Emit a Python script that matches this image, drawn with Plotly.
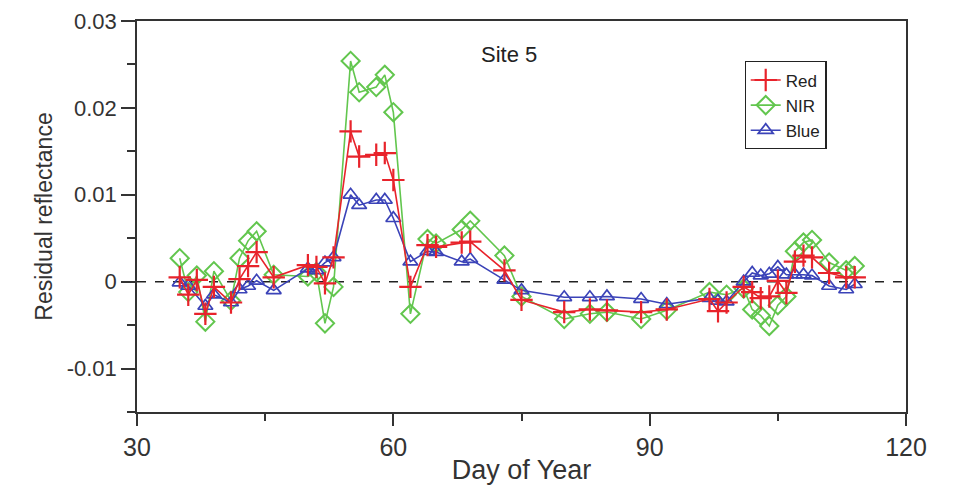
import plotly.graph_objects as go

# ---- data ----
days_red = [35, 36, 37, 38, 39, 41, 42, 43, 44, 46, 50, 51, 52, 53, 55, 56, 58, 59, 60, 62, 64, 65, 68, 69,
            73, 75, 80, 83, 85, 89, 92, 97, 98, 99, 101, 102, 103, 104, 105, 106, 107, 108, 109, 111, 113, 114]
red = [0.0005, -0.0015, 0.0002, -0.0037, -0.0006, -0.0024, 0.0003, 0.0018, 0.0034, 0.0005,
       0.0019, 0.0017, -0.0002, 0.0028, 0.0173, 0.0144, 0.0146, 0.0148, 0.0117, -0.0006,
       0.0042, 0.0040, 0.0045, 0.0046, 0.0013, -0.0021, -0.0035, -0.0032, -0.0033, -0.0035,
       -0.0032, -0.0020, -0.0034, -0.0024, -0.0006, -0.0012, -0.0019, -0.0017, 0.0001, -0.0013,
       0.0023, 0.0030, 0.0028, 0.0010, 0.0005, 0.0005]

days_nir = [35, 36, 37, 38, 39, 41, 42, 43, 44, 46, 50, 51, 52, 53, 55, 56, 58, 59, 60, 62, 64, 65, 68, 69,
            73, 75, 80, 83, 85, 89, 92, 97, 99, 101, 102, 103, 104, 105, 106, 107, 108, 109, 111, 113, 114]
nir = [0.0027, -0.0012, 0.0007, -0.0046, 0.0012, -0.0022, 0.0027, 0.0047, 0.0058, 0.0008,
       0.0006, 0.0011, -0.0048, -0.0006, 0.0254, 0.0218, 0.0224, 0.0238, 0.0195, -0.0037,
       0.0049, 0.0044, 0.0060, 0.0070, 0.0030, -0.0017, -0.0043, -0.0037, -0.0035, -0.0043,
       -0.0033, -0.0012, -0.0015, -0.0008, -0.0032, -0.0039, -0.0051, -0.0027, -0.0017, 0.0035,
       0.0045, 0.0048, 0.0022, 0.0013, 0.0018]

days_blue = [35, 36, 38, 39, 41, 42, 43, 44, 46, 50, 51, 52, 53, 55, 56, 58, 59, 60, 62, 64, 65, 68, 69,
             73, 75, 80, 83, 85, 89, 92, 97, 98, 99, 101, 102, 103, 104, 105, 106, 107, 108, 109, 111, 113, 114]
blue = [-0.0001, -0.0005, -0.0028, -0.0015, -0.0024, -0.0009, -0.0005, 0.0001, -0.0010,
        0.0015, 0.0013, 0.0022, 0.0028, 0.0100, 0.0088, 0.0094, 0.0094, 0.0073, 0.0023,
        0.0035, 0.0034, 0.0023, 0.0026, 0.0002, -0.0010, -0.0018, -0.0018, -0.0017, -0.0020,
        -0.0026, -0.0019, -0.0022, -0.0023, 0.0000, 0.0010, 0.0007, 0.0009, 0.0017, 0.0008,
        0.0008, 0.0008, 0.0007, -0.0005, -0.0009, -0.0003]

x_ticks = [30, 60, 90, 120]
y_ticks = [0.03, 0.02, 0.01, 0, -0.01]
y_tick_text = ["0.03", "0.02", "0.01", "0", "-0.01"]

RED = "#e8232b"
GREEN = "#62c64e"
BLUE = "#3b43b8"
FONT = "Liberation Sans, Arial, sans-serif"

fig = go.Figure()
fig.add_trace(go.Scatter(
    x=days_nir, y=nir, name="NIR", mode="lines+markers", legendrank=2,
    line=dict(color=GREEN, width=1.6),
    marker=dict(symbol="diamond-open", size=14, color=GREEN, line=dict(color=GREEN, width=2)),
))
fig.add_trace(go.Scatter(
    x=days_blue, y=blue, name="Blue", mode="lines+markers", legendrank=3,
    line=dict(color=BLUE, width=1.6),
    marker=dict(symbol="triangle-up-open", size=13, color=BLUE, line=dict(color=BLUE, width=1.7)),
))
fig.add_trace(go.Scatter(
    x=days_red, y=red, name="Red", mode="lines+markers", legendrank=1,
    line=dict(color=RED, width=1.6),
    marker=dict(symbol="cross-thin", size=16, line=dict(color=RED, width=2.2)),
))

fig.add_hline(y=0, line=dict(color="#222", width=1.5, dash="dash"), layer="below")

fig.add_annotation(x=73.5, y=0.0262, text="Site 5", showarrow=False,
                   font=dict(family=FONT, size=22, color="#222"))

fig.update_layout(
    width=948, height=484,
    margin=dict(l=129, r=50, t=13, b=80),
    paper_bgcolor="white", plot_bgcolor="white",
    font=dict(family=FONT, color="#333"),
    showlegend=True,
    legend=dict(
        x=0.79, y=0.897, xanchor="left", yanchor="top",
        traceorder="normal",
        bordercolor="#222", borderwidth=1.2, bgcolor="white",
        font=dict(family=FONT, size=17, color="#222"),
        tracegroupgap=0,
    ),
    xaxis=dict(
        range=[30, 120], tickvals=x_ticks, ticks="outside", ticklen=12, tickwidth=1.5,
        tickcolor="#333", showline=True, linecolor="#333", linewidth=1.5, mirror=True,
        showgrid=False, zeroline=False, automargin=False, ticklabeloverflow="allow",
        tickfont=dict(family=FONT, size=25, color="#333"),
        title=dict(text="Day of Year", font=dict(family=FONT, size=27, color="#333"), standoff=0),
        minor=dict(tickvals=[45, 75, 105], ticks="outside", ticklen=7, tickcolor="#333", tickwidth=1.5),
    ),
    yaxis=dict(
        range=[-0.015, 0.03], tickvals=y_ticks, ticktext=y_tick_text, ticks="outside",
        ticklen=14, tickwidth=1.5, tickcolor="#333", showline=True, linecolor="#333",
        linewidth=1.5, mirror=True, showgrid=False, zeroline=False, automargin=False,
        ticklabeloverflow="allow",
        tickfont=dict(family=FONT, size=22, color="#333"),
        title=dict(text="Residual reflectance", font=dict(family=FONT, size=23, color="#333"), standoff=8),
        minor=dict(tickvals=[0.025, 0.015, 0.005, -0.005, -0.015], ticks="outside", ticklen=8,
                   tickcolor="#333", tickwidth=1.5),
    ),
)

fig.write_html("out.html")
